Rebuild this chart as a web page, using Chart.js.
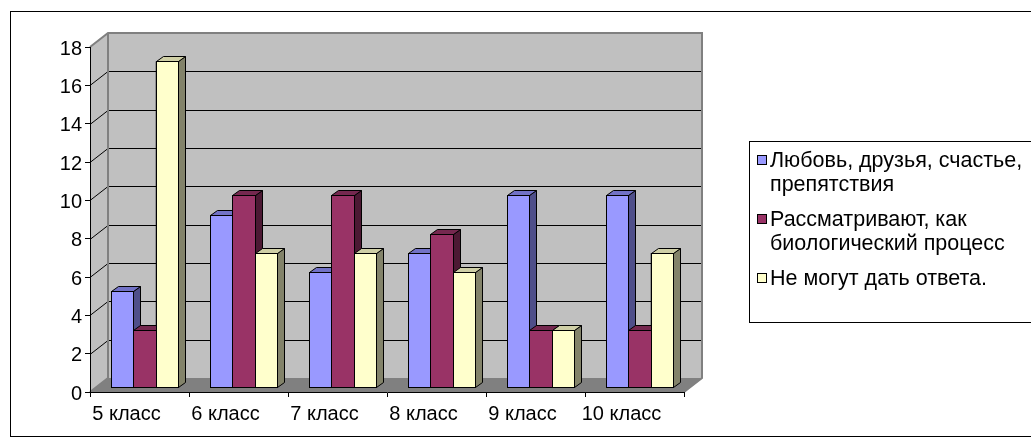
<!DOCTYPE html>
<html>
<head>
<meta charset="utf-8">
<script src="https://cdn.jsdelivr.net/npm/chart.js@4/dist/chart.umd.min.js"></script>
<style>
  body { margin: 0; background: #fff; }
  canvas { display: block; }
</style>
</head>
<body>
<canvas id="barChart" width="1031" height="446"></canvas>
<script>
// classes on the x axis
const categories = ['5 класс', '6 класс', '7 класс', '8 класс', '9 класс', '10 класс'];
// legend text, one entry per series (lines as they wrap in the legend box)
const seriesNames = [
    ['Любовь, друзья, счастье,', 'препятствия'],
    ['Рассматривают, как', 'биологический процесс'],
    ['Не могут дать ответа.']
];
const loveValues = [5, 9, 6, 7, 10, 10];
const biologyValues = [3, 10, 10, 8, 3, 3];
const noAnswerValues = [17, 7, 7, 6, 3, 7];
const yMax = 18;
const yStep = 2;

// front, top, side colours of each series
const faceColors = [
    { front: '#9999ff', top: '#7272c6', side: '#4f4f8a' },
    { front: '#993366', top: '#75284f', side: '#4c1933' },
    { front: '#ffffcc', top: '#cfcfa6', side: '#83836a' }
];

const wallDepth = { dx: 18, dy: -14 };   // front plane -> back wall
const barShift = { dx: 5, dy: -5 };      // front plane -> bar front faces
const barDepth = { dx: 7, dy: -5 };      // thickness of a bar

// back wall, side wall, floor and their grid lines
const wallsPlugin = {
    id: 'walls',
    beforeDraw(chart) {
        const ctx = chart.ctx;
        const area = chart.chartArea;
        const yScale = chart.scales.y;
        const L = area.left, R = area.right, T = area.top, B = area.bottom;
        const dx = wallDepth.dx, dy = wallDepth.dy;

        ctx.save();
        // outer frame
        ctx.strokeStyle = '#000';
        ctx.lineWidth = 1;
        ctx.strokeRect(10.5, 11.5, 1040, 425);

        // side wall
        ctx.fillStyle = '#c0c0c0';
        ctx.beginPath();
        ctx.moveTo(L, B); ctx.lineTo(L, T); ctx.lineTo(L + dx, T + dy); ctx.lineTo(L + dx, B + dy);
        ctx.closePath();
        ctx.fill();
        // back wall
        ctx.fillRect(L + dx, T + dy, R - L, B - T);
        // floor
        ctx.fillStyle = '#808080';
        ctx.beginPath();
        ctx.moveTo(L, B); ctx.lineTo(R, B); ctx.lineTo(R + dx, B + dy); ctx.lineTo(L + dx, B + dy);
        ctx.closePath();
        ctx.fill();

        // grid lines
        ctx.strokeStyle = '#000';
        ctx.lineWidth = 1;
        for (let v = yStep; v < yMax; v += yStep) {
            const yf = Math.round(yScale.getPixelForValue(v)) + 0.5;
            const yb = yf + dy;
            ctx.beginPath();
            ctx.moveTo(L, yf);
            ctx.lineTo(L + dx, yb);
            ctx.lineTo(R + dx, yb);
            ctx.stroke();
        }

        // wall edges
        ctx.strokeStyle = '#808080';
        ctx.lineWidth = 2;
        ctx.beginPath();
        ctx.moveTo(L, T); ctx.lineTo(L + dx, T + dy);
        ctx.lineTo(R + dx, T + dy); ctx.lineTo(R + dx, B + dy);
        ctx.lineTo(R, B);
        ctx.moveTo(L + dx, T + dy); ctx.lineTo(L + dx, B + dy);
        ctx.moveTo(L, B); ctx.lineTo(L + dx, B + dy);
        ctx.stroke();
        ctx.restore();
    }
};

function drawBar3d(ctx, el, colors) {
    const left = Math.round(el.x - el.width / 2) + 0.5;
    const right = Math.round(el.x + el.width / 2) + 0.5;
    const top = Math.round(el.y) + 0.5;
    const bottom = Math.round(el.base) + 0.5;
    const dx = barDepth.dx, dy = barDepth.dy;

    ctx.strokeStyle = '#000';
    ctx.lineWidth = 1;
    ctx.lineJoin = 'miter';

    // side face
    ctx.fillStyle = colors.side;
    ctx.beginPath();
    ctx.moveTo(right, top); ctx.lineTo(right + dx, top + dy);
    ctx.lineTo(right + dx, bottom + dy); ctx.lineTo(right, bottom);
    ctx.closePath();
    ctx.fill(); ctx.stroke();

    // top face
    ctx.fillStyle = colors.top;
    ctx.beginPath();
    ctx.moveTo(left, top); ctx.lineTo(right, top);
    ctx.lineTo(right + dx, top + dy); ctx.lineTo(left + dx, top + dy);
    ctx.closePath();
    ctx.fill(); ctx.stroke();

    // front face
    ctx.fillStyle = colors.front;
    ctx.fillRect(left, top, right - left, bottom - top);
    ctx.strokeRect(left, top, right - left, bottom - top);
}

// bars sit a little behind the front plane and get a top and a side
const bars3dPlugin = {
    id: 'bars3d',
    beforeDatasetsDraw(chart) {
        chart.ctx.save();
        chart.ctx.translate(barShift.dx, barShift.dy);
    },
    afterDatasetsDraw(chart) {
        const ctx = chart.ctx;
        chart.data.datasets.forEach((ds, i) => {
            const meta = chart.getDatasetMeta(i);
            meta.data.forEach(el => drawBar3d(ctx, el, faceColors[i]));
        });
        ctx.restore();
    }
};

// legend box on the right with wrapped labels
const legendBoxPlugin = {
    id: 'legendBox',
    afterDraw(chart) {
        const ctx = chart.ctx;
        ctx.save();
        ctx.strokeStyle = '#000';
        ctx.lineWidth = 1;
        ctx.strokeRect(749.5, 141.5, 300, 181);

        ctx.font = '21.5px "Liberation Sans", Arial, sans-serif';
        ctx.textBaseline = 'middle';
        ctx.textAlign = 'left';
        let y = 160;
        const lineH = 24.5;
        chart.data.datasets.forEach((ds, i) => {
            ctx.fillStyle = faceColors[i].front;
            ctx.fillRect(757.5, Math.round(y) - 4.5, 9, 9);
            ctx.strokeRect(757.5, Math.round(y) - 4.5, 9, 9);
            ctx.fillStyle = '#000';
            seriesNames[i].forEach((line, k) => {
                ctx.fillText(line, 770, y + k * lineH + 1);
            });
            y += seriesNames[i].length * lineH + 10;
        });
        ctx.restore();
    }
};

Chart.defaults.font.family = '"Liberation Sans", Arial, sans-serif';
Chart.defaults.font.size = 20;
Chart.defaults.color = '#000';

const barChart = new Chart('barChart', {
    type: 'bar',
    data: {
        labels: categories,
        datasets: [
            { label: seriesNames[0].join(' '), data: loveValues, backgroundColor: faceColors[0].front },
            { label: seriesNames[1].join(' '), data: biologyValues, backgroundColor: faceColors[1].front },
            { label: seriesNames[2].join(' '), data: noAnswerValues, backgroundColor: faceColors[2].front }
        ]
    },
    options: {
        responsive: false,
        animation: false,
        devicePixelRatio: 1,
        clip: false,
        datasets: {
            bar: { barPercentage: 1, categoryPercentage: 0.667, borderColor: '#000', borderWidth: 1 }
        },
        layout: { padding: { top: 47, right: 347, bottom: 0, left: 0 } },
        plugins: {
            legend: { display: false },
            tooltip: { enabled: false }
        },
        scales: {
            x: {
                grid: { drawOnChartArea: false, drawTicks: true, tickLength: 5, color: '#000', offset: true },
                border: { display: true, color: '#000' },
                ticks: { padding: 5, labelOffset: -13 },
                afterFit: s => { s.height = 54; }
            },
            y: {
                min: 0,
                max: yMax,
                ticks: { stepSize: yStep, padding: 3, labelOffset: 2 },
                grid: { drawOnChartArea: false, drawTicks: true, tickLength: 5, color: '#000' },
                border: { display: true, color: '#000' },
                afterFit: s => { s.width = 90; }
            }
        }
    },
    plugins: [wallsPlugin, bars3dPlugin, legendBoxPlugin]
});
</script>
</body>
</html>
